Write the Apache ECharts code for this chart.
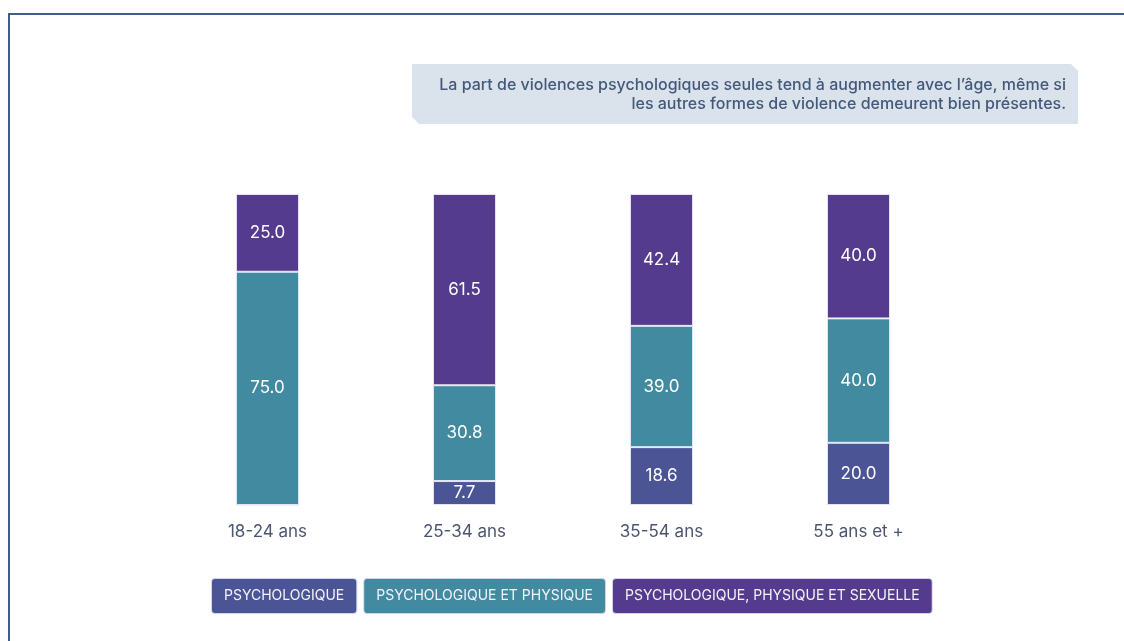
<!DOCTYPE html>
<html>
<head>
<meta charset="utf-8">
<script src="https://cdn.jsdelivr.net/npm/echarts@6/dist/echarts.min.js"></script>
<style>
  html, body { margin: 0; padding: 0; background: #fff; }
  #main { width: 1124px; height: 641px; }
</style>
</head>
<body>
<div id="main"></div>
<script>
// categories and values (in %)
const categories = ['18-24 ans', '25-34 ans', '35-54 ans', '55 ans et +']
const psychologique = [0, 7.7, 18.6, 20.0]
const psychoPhysique = [75.0, 30.8, 39.0, 40.0]
const psychoPhysiqueSexuelle = [25.0, 61.5, 42.4, 40.0]
const seriesNames = ['PSYCHOLOGIQUE', 'PSYCHOLOGIQUE ET PHYSIQUE', 'PSYCHOLOGIQUE, PHYSIQUE ET SEXUELLE']
const colors = ['#4b5595', '#418aa0', '#553b8e']
const note = ['La part de violences psychologiques seules tend à augmenter avec l\u2019âge, même si', 'les autres formes de violence demeurent bien présentes.']

const font = 'Inter, "Noto Sans", sans-serif'
const chart = echarts.init(document.getElementById('main'))

function makeSeries(name, data, color) {
  return {
    name: name,
    type: 'bar',
    stack: 'total',
    barWidth: '32%',
    data: data,
    itemStyle: { color: color, borderColor: 'rgba(235,235,250,0.9)', borderWidth: 1 },
    label: {
      show: true,
      color: '#fff',
      fontSize: 17,
      fontFamily: font,
      formatter: p => (p.value ? p.value.toFixed(1) : '')
    },
    emphasis: { disabled: true }
  }
}

chart.setOption({
  animation: false,
  grid: { left: 169, right: 167, top: 194, bottom: 136 },
  xAxis: {
    type: 'category',
    data: categories,
    axisLine: { show: false },
    axisTick: { show: false },
    axisLabel: { color: '#4b5570', fontSize: 17, fontFamily: font, margin: 18 }
  },
  yAxis: { type: 'value', min: 0, max: 100, show: false },
  legend: {
    left: 207,
    top: 578,
    padding: 0,
    itemGap: 2,
    itemWidth: 0,
    itemHeight: 0,
    icon: 'none',
    selectedMode: false,
    data: seriesNames.map((n, i) => ({
      name: n,
      textStyle: {
        backgroundColor: colors[i],
        color: '#f4f4fb',
        fontSize: 14,
        fontFamily: font,
        padding: [10, 12],
        borderRadius: 3,
        borderColor: 'rgba(200,200,230,0.8)',
        borderWidth: 1
      }
    }))
  },
  graphic: [
    {
      type: 'rect',
      shape: { x: 9, y: 14, width: 1200, height: 700 },
      style: { fill: 'none', stroke: '#3f5f86', lineWidth: 2 },
      silent: true
    },
    {
      type: 'polygon',
      shape: { points: [[412, 64], [1071, 64], [1078, 71], [1078, 124], [419, 124], [412, 117]] },
      style: { fill: '#dae3ec' },
      silent: true
    },
    {
      type: 'text',
      x: 1066,
      y: 85,
      style: { text: note[0], fill: '#44587a', font: '500 16px ' + font, align: 'right', verticalAlign: 'middle' },
      silent: true
    },
    {
      type: 'text',
      x: 1066,
      y: 104,
      style: { text: note[1], fill: '#44587a', font: '500 16px ' + font, align: 'right', verticalAlign: 'middle' },
      silent: true
    }
  ],
  series: [
    makeSeries(seriesNames[0], psychologique, colors[0]),
    makeSeries(seriesNames[1], psychoPhysique, colors[1]),
    makeSeries(seriesNames[2], psychoPhysiqueSexuelle, colors[2])
  ]
})
</script>
</body>
</html>
